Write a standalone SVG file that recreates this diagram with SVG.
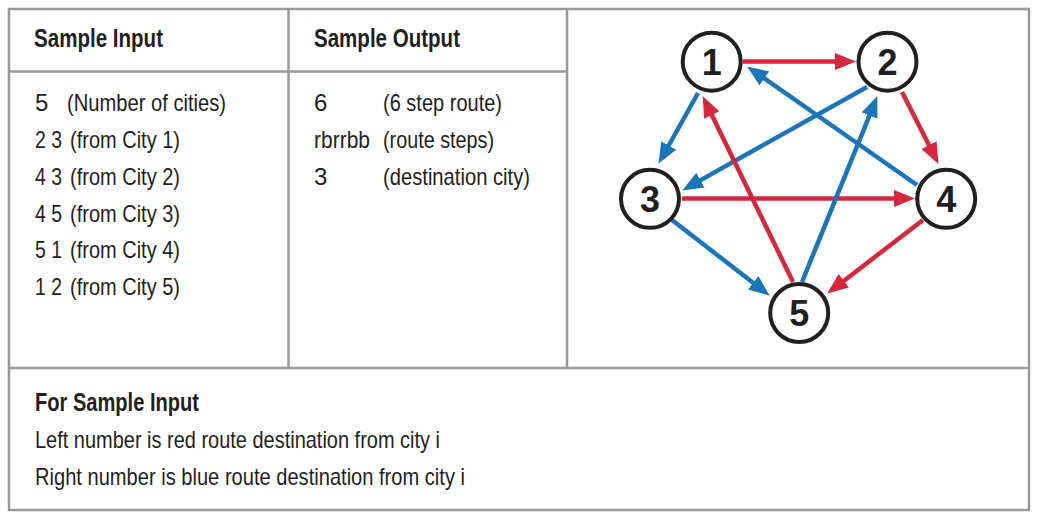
<svg xmlns="http://www.w3.org/2000/svg" width="1041" height="523" viewBox="0 0 1041 523">
<style>
.grid{stroke:#999;stroke-width:2.5;fill:none}
.t{font-family:"Liberation Sans",Arial,sans-serif;font-size:24px;fill:#231f20}
.h{font-family:"Liberation Sans",Arial,sans-serif;font-size:25.5px;font-weight:bold;fill:#231f20}
.red{stroke:#d7263d;stroke-width:4.5;fill:none}
.blue{stroke:#1a75bb;stroke-width:4.5;fill:none}
.node circle{fill:#fff;stroke:#231f20;stroke-width:4}
.node text{font-family:"Liberation Sans",Arial,sans-serif;font-size:36px;font-weight:bold;fill:#231f20;text-anchor:middle}
</style>
<defs>
<marker id="ar" markerUnits="userSpaceOnUse" markerWidth="21" markerHeight="17" refX="8" refY="8.5" orient="auto"><path d="M0,0 L21,8.5 L0,17 z" fill="#d7263d"/></marker>
<marker id="ab" markerUnits="userSpaceOnUse" markerWidth="21" markerHeight="17" refX="8" refY="8.5" orient="auto"><path d="M0,0 L21,8.5 L0,17 z" fill="#1a75bb"/></marker>
</defs>
<rect width="1041" height="523" fill="#fff"/>
<g id="table">
<rect class="grid" x="9" y="9" width="1020" height="501"/>
<line class="grid" x1="9" y1="71.5" x2="567" y2="71.5"/>
<line class="grid" x1="288.5" y1="9" x2="288.5" y2="368"/>
<line class="grid" x1="567" y1="9" x2="567" y2="368"/>
<line class="grid" x1="9" y1="368" x2="1029" y2="368"/>
</g>
<g id="texts">
<text class="h" x="34" y="47" textLength="129" lengthAdjust="spacingAndGlyphs">Sample Input</text>
<text class="h" x="314" y="47" textLength="146" lengthAdjust="spacingAndGlyphs">Sample Output</text>
<text class="t" x="35" y="111">5</text>
<text class="t" x="67" y="111" textLength="159" lengthAdjust="spacingAndGlyphs">(Number of cities)</text>
<text class="t" x="35" y="148" textLength="27" lengthAdjust="spacingAndGlyphs">2 3</text>
<text class="t" x="70" y="148" textLength="110" lengthAdjust="spacingAndGlyphs">(from City 1)</text>
<text class="t" x="35" y="185" textLength="27" lengthAdjust="spacingAndGlyphs">4 3</text>
<text class="t" x="70" y="185" textLength="110" lengthAdjust="spacingAndGlyphs">(from City 2)</text>
<text class="t" x="35" y="222" textLength="27" lengthAdjust="spacingAndGlyphs">4 5</text>
<text class="t" x="70" y="222" textLength="110" lengthAdjust="spacingAndGlyphs">(from City 3)</text>
<text class="t" x="35" y="258" textLength="27" lengthAdjust="spacingAndGlyphs">5 1</text>
<text class="t" x="70" y="258" textLength="110" lengthAdjust="spacingAndGlyphs">(from City 4)</text>
<text class="t" x="35" y="295" textLength="27" lengthAdjust="spacingAndGlyphs">1 2</text>
<text class="t" x="70" y="295" textLength="110" lengthAdjust="spacingAndGlyphs">(from City 5)</text>
<text class="t" x="314" y="111">6</text>
<text class="t" x="383" y="111" textLength="119" lengthAdjust="spacingAndGlyphs">(6 step route)</text>
<text class="t" x="314" y="148" textLength="56" lengthAdjust="spacingAndGlyphs">rbrrbb</text>
<text class="t" x="383" y="148" textLength="111" lengthAdjust="spacingAndGlyphs">(route steps)</text>
<text class="t" x="314" y="185">3</text>
<text class="t" x="383" y="185" textLength="147" lengthAdjust="spacingAndGlyphs">(destination city)</text>
<text class="h" x="35" y="411" textLength="164" lengthAdjust="spacingAndGlyphs">For Sample Input</text>
<text class="t" x="35" y="448" textLength="405" lengthAdjust="spacingAndGlyphs">Left number is red route destination from city i</text>
<text class="t" x="35" y="485" textLength="430" lengthAdjust="spacingAndGlyphs">Right number is blue route destination from city i</text>
</g>
<g id="connectors">
<line class="red" x1="743" y1="61.5" x2="843" y2="61.5" marker-end="url(#ar)"/>
<line class="blue" x1="698" y1="93" x2="664.8" y2="152.5" marker-end="url(#ab)"/>
<line class="red" x1="902" y1="92" x2="932.6" y2="152.3" marker-end="url(#ar)"/>
<line class="blue" x1="867" y1="87" x2="693.5" y2="184.1" marker-end="url(#ab)"/>
<line class="red" x1="682" y1="198.5" x2="902" y2="198.5" marker-end="url(#ar)"/>
<line class="blue" x1="672" y1="220" x2="759.5" y2="287.7" marker-end="url(#ab)"/>
<line class="blue" x1="917" y1="185" x2="757.8" y2="73.9" marker-end="url(#ab)"/>
<line class="red" x1="923" y1="220" x2="837.5" y2="285.7" marker-end="url(#ar)"/>
<line class="red" x1="793" y1="282" x2="708.3" y2="107.8" marker-end="url(#ar)"/>
<line class="blue" x1="802" y1="282" x2="872.5" y2="108.1" marker-end="url(#ab)"/>
</g>
<g id="node1" class="node"><circle cx="711.7" cy="61.7" r="29"/><text x="711.7" y="74.5">1</text></g>
<g id="node2" class="node"><circle cx="887.5" cy="61.7" r="29"/><text x="887.5" y="74.5">2</text></g>
<g id="node3" class="node"><circle cx="650" cy="198.8" r="29"/><text x="650" y="211.5">3</text></g>
<g id="node4" class="node"><circle cx="946.2" cy="198.8" r="29"/><text x="946.2" y="211.5">4</text></g>
<g id="node5" class="node"><circle cx="799.2" cy="313" r="29"/><text x="799.2" y="325.8">5</text></g>
</svg>
